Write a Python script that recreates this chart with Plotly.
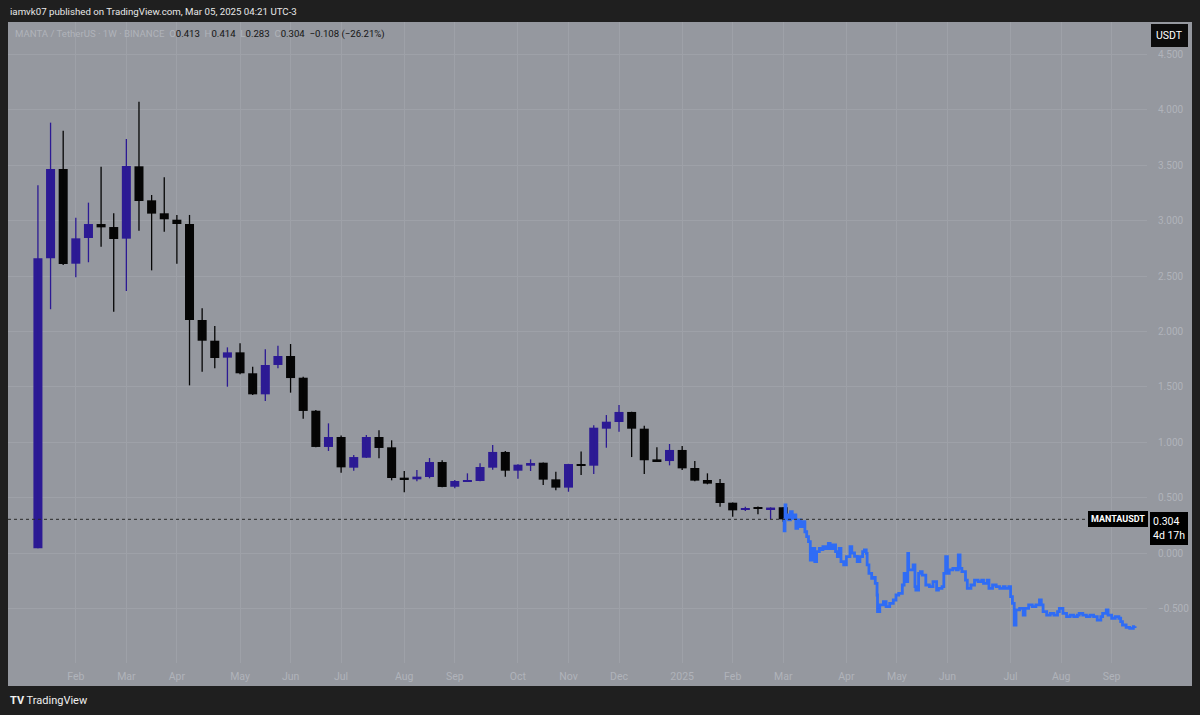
import plotly.graph_objects as go

# ---------------- data ----------------
week_dates = [
    "2024-01-15", "2024-01-22", "2024-01-29", "2024-02-05", "2024-02-12", "2024-02-19", "2024-02-26",
    "2024-03-04", "2024-03-11", "2024-03-18", "2024-03-25", "2024-04-01", "2024-04-08", "2024-04-15",
    "2024-04-22", "2024-04-29", "2024-05-06", "2024-05-13", "2024-05-20", "2024-05-27", "2024-06-03",
    "2024-06-10", "2024-06-17", "2024-06-24", "2024-07-01", "2024-07-08", "2024-07-15", "2024-07-22",
    "2024-07-29", "2024-08-05", "2024-08-12", "2024-08-19", "2024-08-26", "2024-09-02", "2024-09-09",
    "2024-09-16", "2024-09-23", "2024-09-30", "2024-10-07", "2024-10-14", "2024-10-21", "2024-10-28",
    "2024-11-04", "2024-11-11", "2024-11-18", "2024-11-25", "2024-12-02", "2024-12-09", "2024-12-16",
    "2024-12-23", "2024-12-30", "2025-01-06", "2025-01-13", "2025-01-20", "2025-01-27", "2025-02-03",
    "2025-02-10", "2025-02-17", "2025-02-24", "2025-03-03",
]
opens = [
    0.042, 2.660, 3.466, 2.611, 2.843, 2.969, 2.942, 2.837, 3.490, 3.183, 3.066, 3.008, 2.969, 2.103,
    1.916, 1.763, 1.811, 1.622, 1.432, 1.697, 1.778, 1.582, 1.284, 0.957, 1.047, 0.770, 0.860, 1.047,
    0.954, 0.680, 0.665, 0.686, 0.821, 0.598, 0.644, 0.650, 0.770, 0.912, 0.743, 0.788, 0.815, 0.665,
    0.590, 0.803, 0.788, 1.122, 1.182, 1.273, 1.122, 0.845, 0.830, 0.930, 0.767, 0.659, 0.632, 0.454,
    0.392, 0.405, 0.396, 0.413,
]
highs = [
    3.320, 3.884, 3.810, 3.026, 3.162, 3.487, 3.066, 3.736, 4.073, 3.231, 3.391, 3.051, 3.051, 2.208,
    2.049, 1.856, 1.893, 1.682, 1.838, 1.871, 1.886, 1.590, 1.290, 1.170, 1.060, 0.884, 1.065, 1.107,
    1.017, 0.740, 0.749, 0.857, 0.836, 0.659, 0.719, 0.809, 0.975, 0.920, 0.800, 0.845, 0.817, 0.734,
    0.805, 0.915, 1.152, 1.245, 1.336, 1.275, 1.149, 0.954, 0.984, 0.966, 0.830, 0.719, 0.668, 0.456,
    0.418, 0.420, 0.412, 0.414,
]
lows = [
    0.042, 2.200, 2.600, 2.488, 2.624, 2.765, 2.178, 2.365, 2.909, 2.551, 2.900, 2.611, 1.513, 1.636,
    1.667, 1.501, 1.613, 1.426, 1.372, 1.667, 1.447, 1.212, 0.955, 0.921, 0.725, 0.743, 0.858, 0.855,
    0.656, 0.548, 0.647, 0.674, 0.594, 0.584, 0.642, 0.648, 0.752, 0.689, 0.671, 0.740, 0.614, 0.566,
    0.553, 0.704, 0.713, 0.950, 1.095, 0.866, 0.713, 0.828, 0.791, 0.749, 0.647, 0.620, 0.418, 0.328,
    0.379, 0.349, 0.307, 0.283,
]
closes = [
    2.660, 3.466, 2.608, 2.840, 2.969, 2.939, 2.834, 3.493, 3.177, 3.063, 3.012, 2.969, 2.103, 1.916,
    1.760, 1.811, 1.622, 1.432, 1.697, 1.778, 1.579, 1.282, 0.957, 1.047, 0.773, 0.866, 1.047, 0.948,
    0.677, 0.665, 0.689, 0.821, 0.596, 0.650, 0.656, 0.776, 0.912, 0.743, 0.797, 0.812, 0.662, 0.590,
    0.803, 0.788, 1.131, 1.185, 1.273, 1.122, 0.837, 0.830, 0.930, 0.764, 0.653, 0.626, 0.451, 0.385,
    0.398, 0.400, 0.410, 0.304,
]

proj_dates = [
    "2025-03-03 00:00", "2025-03-03 12:00", "2025-03-04 00:00", "2025-03-04 12:00", "2025-03-05", "2025-03-06",
    "2025-03-07", "2025-03-08", "2025-03-09", "2025-03-10", "2025-03-11", "2025-03-12 12:00", "2025-03-14",
    "2025-03-15", "2025-03-16", "2025-03-17", "2025-03-18", "2025-03-19", "2025-03-20 12:00",
    "2025-03-21 12:00", "2025-03-23", "2025-03-24", "2025-03-25", "2025-03-26 12:00", "2025-03-28",
    "2025-03-29", "2025-03-30 12:00", "2025-04-01", "2025-04-02", "2025-04-03", "2025-04-04",
    "2025-04-05 12:00", "2025-04-07", "2025-04-09", "2025-04-10", "2025-04-11 12:00", "2025-04-13",
    "2025-04-14 12:00", "2025-04-16", "2025-04-17", "2025-04-18", "2025-04-18 12:00", "2025-04-19 12:00",
    "2025-04-21", "2025-04-22", "2025-04-23", "2025-04-24", "2025-04-24 06:00", "2025-04-25 12:00",
    "2025-04-27 12:00", "2025-04-29", "2025-05-01", "2025-05-03", "2025-05-04 12:00", "2025-05-06",
    "2025-05-08", "2025-05-09", "2025-05-10", "2025-05-11", "2025-05-11 12:00", "2025-05-12", "2025-05-14",
    "2025-05-15", "2025-05-15 12:00", "2025-05-17", "2025-05-18", "2025-05-19", "2025-05-21", "2025-05-23",
    "2025-05-25", "2025-05-27", "2025-05-28", "2025-05-30", "2025-05-31", "2025-06-01", "2025-06-02",
    "2025-06-03", "2025-06-05", "2025-06-07", "2025-06-08", "2025-06-09", "2025-06-10", "2025-06-12",
    "2025-06-13", "2025-06-15", "2025-06-17", "2025-06-19", "2025-06-21", "2025-06-22", "2025-06-24",
    "2025-06-25", "2025-06-27", "2025-06-29", "2025-07-01", "2025-07-03", "2025-07-04", "2025-07-06",
    "2025-07-07", "2025-07-08", "2025-07-09", "2025-07-10", "2025-07-12", "2025-07-14", "2025-07-15",
    "2025-07-17", "2025-07-19", "2025-07-21", "2025-07-23", "2025-07-24", "2025-07-25", "2025-07-27",
    "2025-07-29", "2025-07-31", "2025-08-02", "2025-08-03", "2025-08-05", "2025-08-07", "2025-08-09",
    "2025-08-11", "2025-08-13", "2025-08-14", "2025-08-16", "2025-08-18", "2025-08-20", "2025-08-22",
    "2025-08-24", "2025-08-26", "2025-08-27", "2025-08-29", "2025-08-30", "2025-09-01", "2025-09-03",
    "2025-09-05", "2025-09-06", "2025-09-07", "2025-09-09", "2025-09-11", "2025-09-13", "2025-09-14",
]
proj_values = [
    0.300, 0.200, 0.433, 0.310, 0.343, 0.300,
    0.373, 0.313, 0.343, 0.223, 0.298, 0.238, 0.283,
    0.192, 0.147, 0.102, -0.063, 0.042, -0.078,
    0.012, 0.042, 0.030, 0.057, 0.040, 0.087,
    0.040, 0.072, 0.012, -0.033, 0.042, -0.078,
    -0.108, -0.033, 0.057, 0.000, -0.030, -0.078,
    -0.033, 0.012, 0.027, -0.003, -0.108, -0.183,
    -0.228, -0.220, -0.274, -0.379, -0.529, -0.469,
    -0.439, -0.484, -0.454, -0.424, -0.379, -0.364,
    -0.289, -0.183, -0.259, -0.003, -0.153, -0.153, -0.108,
    -0.304, -0.334, -0.183, -0.168, -0.199, -0.289, -0.304,
    -0.259, -0.334, -0.319, -0.304, -0.183, -0.033, -0.183,
    -0.153, -0.138, -0.153, -0.018, -0.138, -0.168, -0.244,
    -0.319, -0.289, -0.244, -0.259, -0.244, -0.274, -0.244,
    -0.319, -0.289, -0.304, -0.319, -0.304, -0.319, -0.304,
    -0.394, -0.454, -0.650, -0.514, -0.499, -0.560, -0.499,
    -0.469, -0.484, -0.469, -0.424, -0.469, -0.529, -0.560,
    -0.544, -0.560, -0.529, -0.499, -0.544, -0.575, -0.560,
    -0.575, -0.560, -0.544, -0.560, -0.575, -0.560, -0.575,
    -0.605, -0.575, -0.544, -0.514, -0.560, -0.589, -0.575,
    -0.589, -0.620, -0.650, -0.671, -0.680, -0.665, -0.660,
]

tick_dates = [
    "2024-02-05", "2024-03-04", "2024-04-01", "2024-05-06", "2024-06-03", "2024-07-01", "2024-08-05",
    "2024-09-02", "2024-10-07", "2024-11-04", "2024-12-02", "2025-01-06", "2025-02-03", "2025-03-03",
    "2025-04-07", "2025-05-05", "2025-06-02", "2025-07-07", "2025-08-04", "2025-09-01",
]
tick_labels = [
    "Feb", "Mar", "Apr", "May", "Jun", "Jul", "Aug", "Sep", "Oct", "Nov", "Dec", "2025", "Feb", "Mar",
    "Apr", "May", "Jun", "Jul", "Aug", "Sep",
]
y_ticks = [-0.5, 0.0, 0.5, 1.0, 1.5, 2.0, 2.5, 3.0, 3.5, 4.0, 4.5]
last_price = 0.304

# ---------------- styles ----------------
UP = "#2c1a94"
DOWN = "#050505"
LINE_BLUE = "#2f6cf5"
PANEL = "#95989f"
DARK = "#1f1f1f"
GRID = "#9ea1a8"
FAINT = "#b0b3ba"
W, H = 1200, 715
L, R, T, B = 8, 1147, 22, 663


def px(x):
    return (x - L) / (R - L)


def py(y):
    return (B - y) / (B - T)


fig = go.Figure()

up_idx = [i for i in range(len(opens)) if closes[i] >= opens[i]]
dn_idx = [i for i in range(len(opens)) if closes[i] < opens[i]]

for idx, col in ((up_idx, UP), (dn_idx, DOWN)):
    wx, wy = [], []
    for i in idx:
        wx += [week_dates[i], week_dates[i], None]
        wy += [lows[i], highs[i], None]
    fig.add_trace(go.Scatter(x=wx, y=wy, mode="lines", line=dict(color=col, width=1.3),
                             hoverinfo="skip", showlegend=False))
    fig.add_trace(go.Bar(
        x=[week_dates[i] for i in idx],
        base=[min(opens[i], closes[i]) for i in idx],
        y=[max(abs(closes[i] - opens[i]), 0.012) for i in idx],
        width=5 * 86400000,
        marker=dict(color=col, line=dict(width=0)),
        showlegend=False,
    ))

fig.add_trace(go.Scatter(x=proj_dates, y=proj_values, mode="lines", line_shape="hv",
                         line=dict(color=LINE_BLUE, width=2.8), showlegend=False))

shapes = [
    dict(type="rect", xref="paper", yref="paper", x0=px(8), x1=px(1192), y0=py(686), y1=py(22),
         fillcolor=PANEL, line=dict(width=0), layer="below"),
    dict(type="line", xref="paper", yref="y", x0=0, x1=px(1090), y0=last_price, y1=last_price,
         line=dict(color="#2a2a2a", width=1, dash="dot")),
]

annotations = [
    dict(xref="paper", yref="paper", x=px(8), y=py(12), xanchor="left", yanchor="middle",
         text="iamvk07 published on TradingView.com, Mar 05, 2025 04:21 UTC-3", showarrow=False,
         font=dict(family="Roboto", size=9.7, color="#e8e8e8")),
    dict(xref="paper", yref="paper", x=px(13), y=py(34), xanchor="left", yanchor="middle", showarrow=False,
         text=(f"<span style='color:{FAINT}'>MANTA / TetherUS · 1W · BINANCE</span>  "
               f"<span style='color:{FAINT}'>O</span><span style='color:#141414'>0.413</span>  "
               f"<span style='color:{FAINT}'>H</span><span style='color:#141414'>0.414</span>  "
               f"<span style='color:{FAINT}'>L</span><span style='color:#141414'>0.283</span>  "
               f"<span style='color:{FAINT}'>C</span><span style='color:#141414'>0.304</span>  "
               f"<span style='color:#141414'>−0.108 (−26.21%)</span>"),
         font=dict(family="Roboto", size=9.6, color="#141414")),
    dict(xref="paper", yref="paper", x=px(1169), y=py(35), xanchor="center", yanchor="middle", showarrow=False,
         text="USDT", bgcolor="#0c0c0c", bordercolor="#0c0c0c", borderpad=4,
         font=dict(family="Roboto", size=10.5, color="#ffffff")),
    dict(xref="paper", yref="y", x=px(1117.5), y=last_price, xanchor="center", yanchor="middle", showarrow=False,
         text="<b>MANTAUSDT</b>", bgcolor="#000000", bordercolor="#000000", borderpad=2,
         font=dict(family="Roboto", size=9, color="#ffffff")),
    dict(xref="paper", yref="paper", x=px(1150), y=py(512), xanchor="left", yanchor="top", showarrow=False,
         text="0.304<br>4d 17h", align="left", bgcolor="#000000", bordercolor="#000000", borderpad=2,
         font=dict(family="Roboto", size=10.5, color="#ffffff")),
    dict(xref="paper", yref="paper", x=px(8), y=py(700), xanchor="left", yanchor="middle", showarrow=False,
         text="<b>TV</b> TradingView",
         font=dict(family="Roboto", size=11, color="#f0f0f0")),
]

fig.update_layout(
    width=W, height=H,
    margin=dict(l=L, r=W - R, t=T, b=H - B),
    paper_bgcolor=DARK, plot_bgcolor=PANEL,
    barmode="overlay", showlegend=False,
    shapes=shapes, annotations=annotations,
    xaxis=dict(type="date", range=["2023-12-29 10:00", "2025-09-20 14:00"],
               tickvals=tick_dates, ticktext=tick_labels,
               showgrid=True, gridcolor=GRID, gridwidth=1, zeroline=False, showline=False,
               ticks="outside", ticklen=3, tickcolor=PANEL,
               tickfont=dict(family="Roboto", size=10.5, color=FAINT), fixedrange=True),
    yaxis=dict(side="right", range=[(553 - 663) / 110.8, (553 - 22) / 110.8],
               tickvals=y_ticks, tickformat=".3f",
               showgrid=True, gridcolor=GRID, gridwidth=1, zeroline=False, showline=False,
               ticks="outside", ticklen=8, tickcolor=PANEL,
               tickfont=dict(family="Roboto", size=10, color=FAINT), fixedrange=True),
)

fig.write_html("out.html", config={"displayModeBar": False},
               post_script="document.body.style.margin='0';document.body.style.background='#1f1f1f';")
